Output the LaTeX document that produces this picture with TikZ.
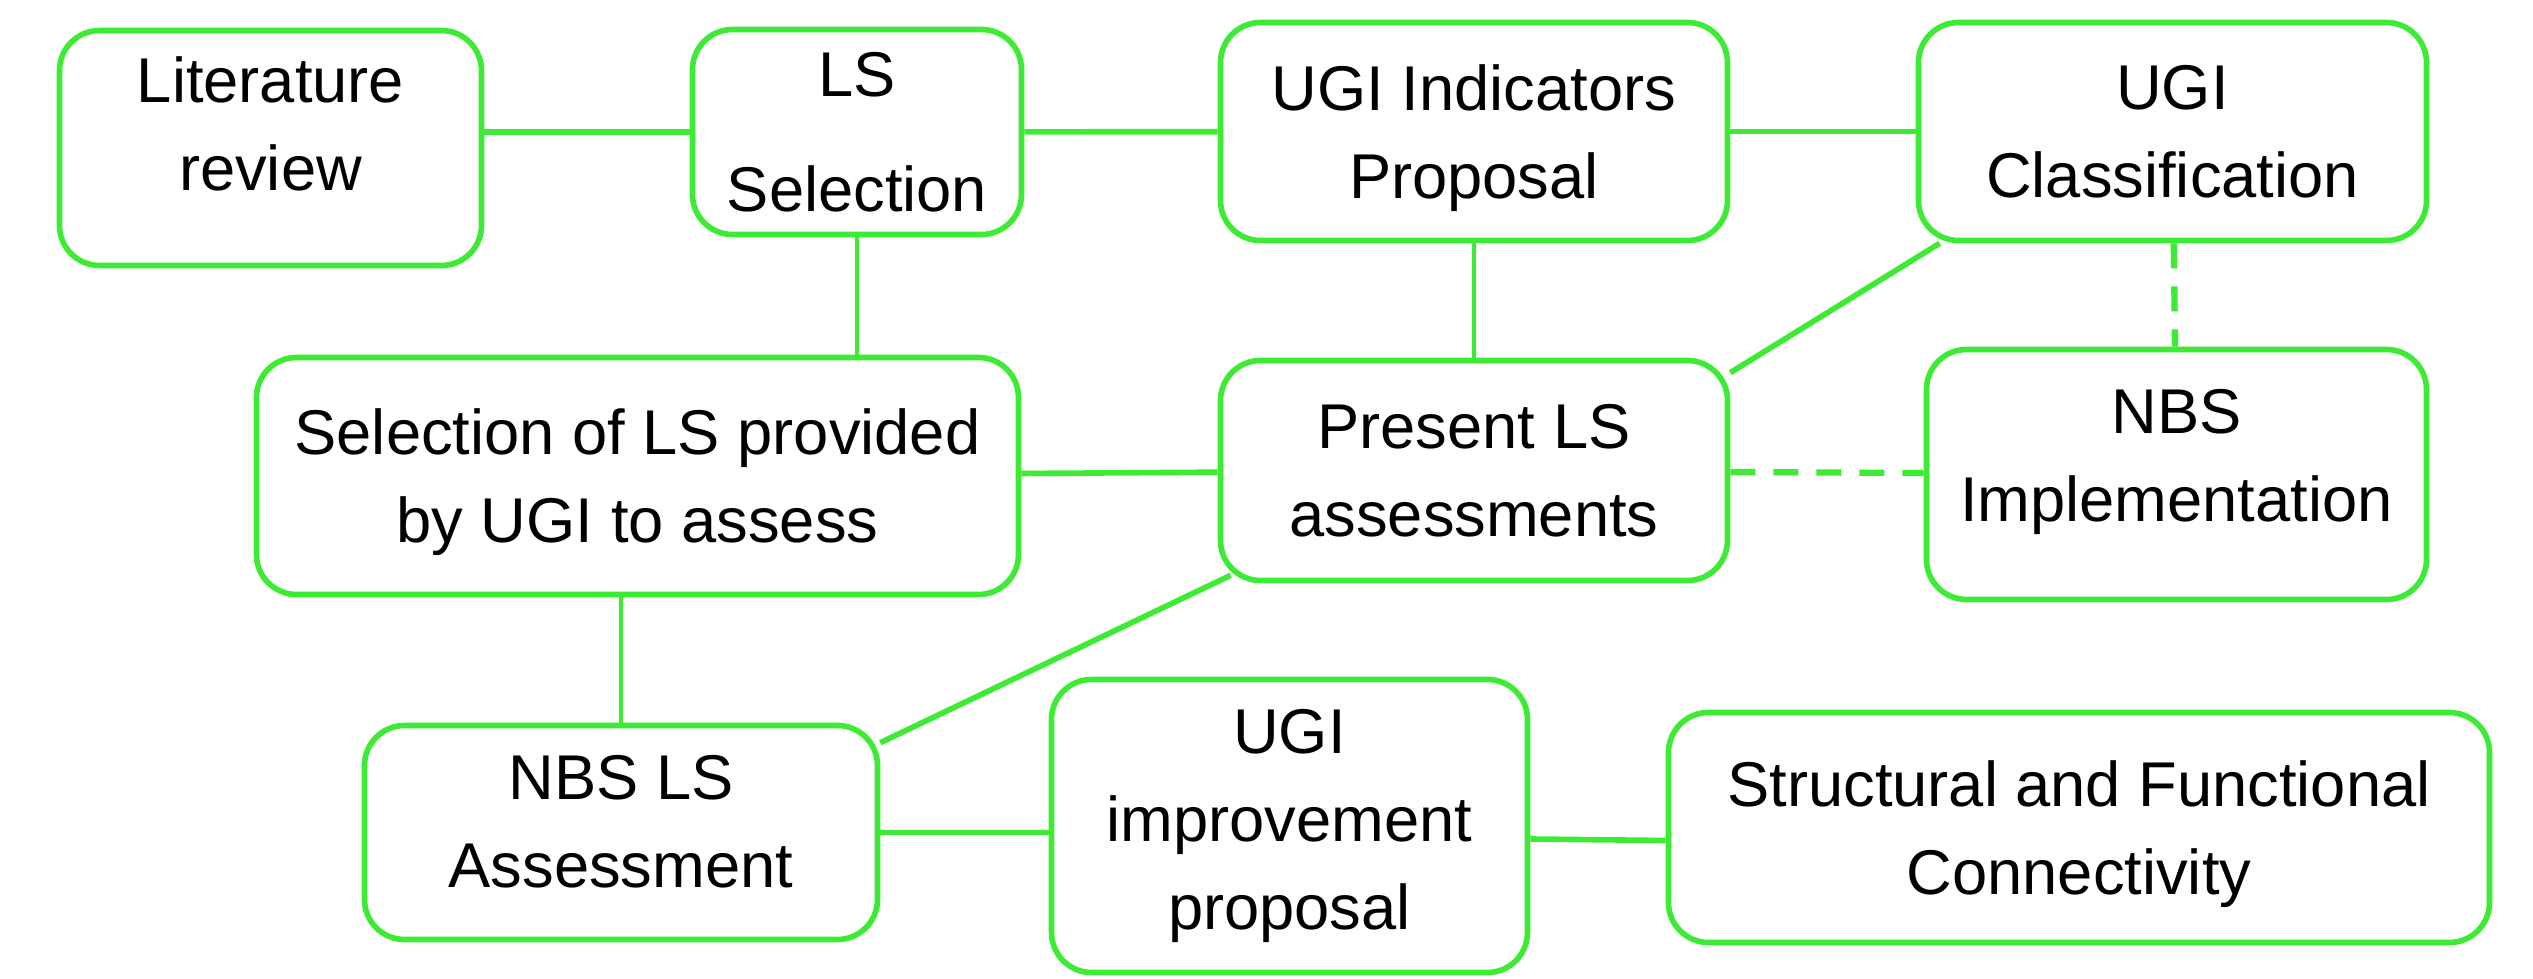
\documentclass[tikz,border=0pt]{standalone}
\usepackage{fontspec}
\setmainfont{Liberation Sans}
\usetikzlibrary{positioning}
\definecolor{ugigreen}{RGB}{61,235,52}

\begin{document}
\begin{tikzpicture}[
    box/.style={draw=ugigreen, line width=1.6pt, rounded corners=0.4cm, align=center,
      inner sep=0pt, font=\fontsize{18}{25}\selectfont},
    link/.style={draw=ugigreen, line width=1.6pt},
    thinlink/.style={draw=ugigreen, line width=1.0pt},
    dashlink/.style={draw=ugigreen, line width=1.8pt, dash pattern=on 0.25cm off 0.18cm}
  ]
  \useasboundingbox (0,0) rectangle (25.33,-9.79);
  % top row
  \node[box, minimum width=4.22cm, minimum height=2.35cm, text depth=0.48cm] (lit) at (2.705,-1.48) {Literature\\review};
  \node[box, minimum width=3.29cm, minimum height=2.05cm, font=\fontsize{18}{32.7}\selectfont] (lss) at (8.57,-1.32) {LS\\Selection};
  \node[box, minimum width=5.07cm, minimum height=2.18cm, text depth=0pt] (ind) at (14.74,-1.315) {UGI Indicators\\Proposal};
  \node[box, minimum width=5.08cm, minimum height=2.18cm] (cls) at (21.725,-1.315) {UGI\\Classification};
  % middle row
  \node[box, minimum width=7.62cm, minimum height=2.37cm, text depth=0pt] (sel) at (6.375,-4.76) {Selection of LS provided\\by UGI to assess};
  \node[box, minimum width=5.07cm, minimum height=2.2cm] (pres) at (14.74,-4.705) {Present LS\\assessments};
  \node[box, minimum width=5.0cm, minimum height=2.5cm, text depth=0.39cm] (nbsi) at (21.765,-4.745) {NBS\\Implementation};
  % bottom row
  \node[box, minimum width=5.13cm, minimum height=2.14cm, text depth=0.22cm] (nbsa) at (6.21,-8.325) {NBS LS\\Assessment};
  \node[box, minimum width=4.76cm, minimum height=2.93cm] (impr) at (12.895,-8.26) {UGI\\improvement\\proposal};
  \node[box, minimum width=8.21cm, minimum height=2.3cm, text depth=-0.08cm] (sfc) at (20.79,-8.275) {Structural and Functional\\Connectivity};

  % connectors
  \draw[link] (lit.east |- lss.west) -- (lss.west);
  \draw[link] (lss) -- (ind);
  \draw[link] (ind) -- (cls);
  \draw[thinlink] (lss.south) -- (lss.south |- sel.north);
  \draw[thinlink] (ind) -- (pres);
  \draw[link] ([xshift=0.24cm]cls.south west) -- ([yshift=-0.15cm]pres.north east);
  \draw[dashlink] (cls) -- (nbsi);
  \draw[dashlink] (pres) -- (nbsi);
  \draw[link] (sel) -- (pres);
  \draw[thinlink] (nbsa.north) -- (nbsa.north |- sel.south);
  \draw[link] ([xshift=0.13cm,yshift=0.08cm]pres.south west) -- ([yshift=-0.2cm]nbsa.north east);
  \draw[link] (nbsa.east) -- (nbsa.east -| impr.west);
  \draw[link] ([yshift=-0.13cm]impr.east) -- ([yshift=-0.13cm]sfc.west);
\end{tikzpicture}
\end{document}
